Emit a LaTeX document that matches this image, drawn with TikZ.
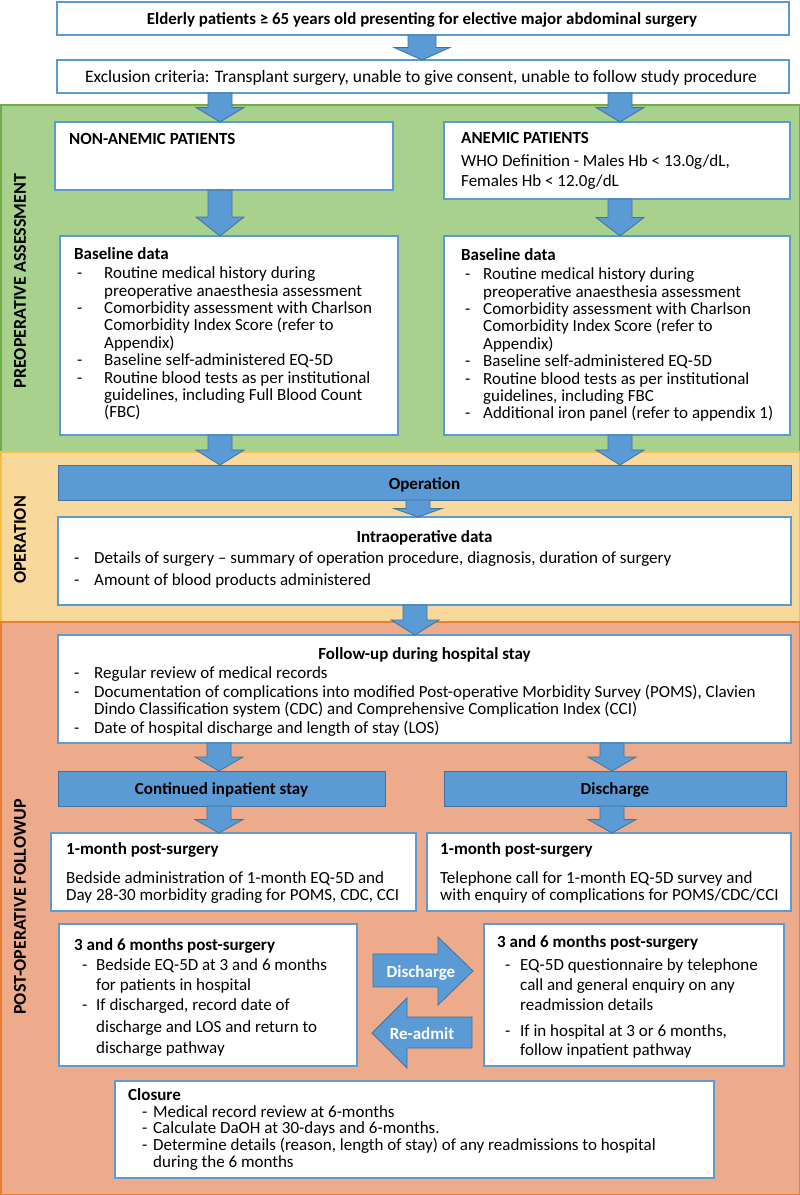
\documentclass[tikz,border=0pt]{standalone}
\usepackage{fontspec}
\setmainfont{Carlito}
\usetikzlibrary{calc}
\definecolor{bxb}{HTML}{5B9BD5}
\definecolor{arb}{HTML}{41719C}
\definecolor{grf}{HTML}{A9D18E}
\definecolor{grd}{HTML}{70AD47}
\definecolor{orf}{HTML}{F9D89C}
\definecolor{ord}{HTML}{F5C040}
\definecolor{saf}{HTML}{EEAB8C}
\definecolor{sad}{HTML}{ED7D31}
\newcommand\fs{\rule{0pt}{13.5pt}}
\newcommand\darr[4][12]{%
  \draw[arrst] let \p1=(#3.south), \p2=(#4.north), \n1={min(19,0.5*(\y1-\y2))} in
    (#2pt-#1pt,\y1) -- (#2pt+#1pt,\y1) -- (#2pt+#1pt,\y2+\n1) -- (#2pt+2*#1pt,\y2+\n1)
    -- (#2pt,\y2) -- (#2pt-2*#1pt,\y2+\n1) -- (#2pt-#1pt,\y2+\n1) -- cycle;}
\begin{document}
\begin{tikzpicture}[x=1pt,y=-1pt,
 box/.style={draw=bxb,line width=1.5pt,fill=white,anchor=north west,inner sep=0pt,outer sep=0pt},
 bar/.style={draw=arb,line width=1pt,fill=bxb,anchor=north west,inner sep=0pt,outer sep=0pt},
 txt/.style={inner sep=0pt,font=\fontsize{17}{17}\selectfont},
 txtb/.style={inner sep=0pt,font=\fontsize{17}{17}\selectfont\bfseries},
 ml/.style={txt,align=left,anchor=north west},
 bt/.style={ml,font=\fontsize{17}{17.4}\selectfont},
 side/.style={inner sep=0pt,rotate=90,font=\fontsize{18}{20}\selectfont\bfseries},
 arrst/.style={draw=arb,line width=0.8pt,fill=bxb,line join=miter},
 band/.style={line width=1.5pt}
]
\useasboundingbox (0,0) rectangle (800,1195);
\fill[white] (0,0) rectangle (800,1195);
% bands
\filldraw[band,fill=grf,draw=grd] (0.75,105) rectangle (799.25,452);
\filldraw[band,fill=orf,draw=ord] (0.75,452) rectangle (799.25,622);
\filldraw[band,fill=saf,draw=sad] (0.75,622) rectangle (799.25,1194.25);
% side labels
\node[side] (s1) at (20,281) {PREOPERATIVE ASSESSMENT};
\node[side] (s2) at (20,540) {OPERATION};
\node[side] (s3) at (20,907) {POST-OPERATIVE FOLLOWUP};
% top
\node[box,minimum width=732pt,minimum height=33pt] (top) at (57,2) {};
\node[txtb,font=\fontsize{16.9}{17}\selectfont\bfseries,anchor=base] (topt) at (422,24) {Elderly patients ≥ 65 years old presenting for elective major abdominal surgery};
\node[box,minimum width=732pt,minimum height=33pt] (excl) at (57,60) {};
\node[txt,font=\fontsize{17.5}{17}\selectfont,anchor=base] (exclt) at (421,82) {Exclusion criteria: Transplant surgery, unable to give consent, unable to follow study procedure};
% preoperative
\node[box,minimum width=338pt,minimum height=68pt] (nonan) at (55,122) {};
\node[txtb,anchor=base west] (nonant) at (69,144) {NON-ANEMIC PATIENTS};
\node[box,minimum width=346pt,minimum height=77pt] (anem) at (444,122) {};
\node[ml] (anemt) at (461,129.5) {\fs\textbf{ANEMIC PATIENTS}\\[6pt]WHO Definition - Males Hb < 13.0g/dL,\\[3pt]Females Hb < 12.0g/dL};
\node[box,minimum width=338pt,minimum height=199pt] (bl) at (60,236) {};
\node[bt] (blt) at (74,245.5) {\fs\textbf{Baseline data}\\[2pt]
\makebox[30pt][l]{\hspace{3pt}-}Routine medical history during\\
\makebox[30pt]{}preoperative anaesthesia assessment\\
\makebox[30pt][l]{\hspace{3pt}-}Comorbidity assessment with Charlson\\
\makebox[30pt]{}Comorbidity Index Score (refer to\\
\makebox[30pt]{}Appendix)\\
\makebox[30pt][l]{\hspace{3pt}-}Baseline self-administered EQ-5D\\
\makebox[30pt][l]{\hspace{3pt}-}Routine blood tests as per institutional\\
\makebox[30pt]{}guidelines, including Full Blood Count\\
\makebox[30pt]{}(FBC)};
\node[box,minimum width=346pt,minimum height=199pt] (br) at (444,236) {};
\node[bt] (brt) at (461,246.5) {\fs\textbf{Baseline data}\\[2pt]
\makebox[22pt][l]{\hspace{4pt}-}Routine medical history during\\
\makebox[22pt]{}preoperative anaesthesia assessment\\
\makebox[22pt][l]{\hspace{4pt}-}Comorbidity assessment with Charlson\\
\makebox[22pt]{}Comorbidity Index Score (refer to\\
\makebox[22pt]{}Appendix)\\
\makebox[22pt][l]{\hspace{4pt}-}Baseline self-administered EQ-5D\\
\makebox[22pt][l]{\hspace{4pt}-}Routine blood tests as per institutional\\
\makebox[22pt]{}guidelines, including FBC\\
\makebox[22pt][l]{\hspace{4pt}-}Additional iron panel (refer to appendix 1)};
% operation
\node[bar,minimum width=733pt,minimum height=35pt] (op) at (58,465) {};
\node[txtb,anchor=base] (opt) at (424.5,489) {Operation};
\node[box,minimum width=733pt,minimum height=88pt] (intra) at (58,517) {};
\node[txtb,anchor=base] (intrat) at (424.5,542) {Intraoperative data};
\node[ml] (intral) at (74,549.5) {\fs\makebox[20pt][l]{-}Details of surgery – summary of operation procedure, diagnosis, duration of surgery\\[5pt]
\makebox[20pt][l]{-}Amount of blood products administered};
% follow-up
\node[box,minimum width=733pt,minimum height=108pt] (fu) at (58,635) {};
\node[txtb,anchor=base] (fut) at (424.5,659) {Follow-up during hospital stay};
\node[ml] (ful) at (74,664.5) {\fs\makebox[20pt][l]{-}Regular review of medical records\\[2pt]
\makebox[20pt][l]{-}Documentation of complications into modified Post-operative Morbidity Survey (POMS), Clavien\\
\makebox[20pt]{}Dindo Classification system (CDC) and Comprehensive Complication Index (CCI)\\[2pt]
\makebox[20pt][l]{-}Date of hospital discharge and length of stay (LOS)};
\node[bar,minimum width=327pt,minimum height=35pt] (cont) at (58,771) {};
\node[txtb,anchor=base] (contt) at (221.5,794) {Continued inpatient stay};
\node[bar,minimum width=342pt,minimum height=35pt] (dis) at (444,771) {};
\node[txtb,anchor=base] (dist) at (615,794) {Discharge};
\node[box,minimum width=365pt,minimum height=78pt] (m1l) at (51,833) {};
\node[ml] (m1lt) at (66,840.5) {\fs\textbf{1-month post-surgery}\\[12pt]Bedside administration of 1-month EQ-5D and\\Day 28-30 morbidity grading for POMS, CDC, CCI};
\node[box,minimum width=364pt,minimum height=78pt] (m1r) at (427,833) {};
\node[ml] (m1rt) at (440,840.5) {\fs\textbf{1-month post-surgery}\\[12pt]Telephone call for 1-month EQ-5D survey and\\with enquiry of complications for POMS/CDC/CCI};
\node[box,minimum width=298pt,minimum height=142pt] (l36) at (59,924) {};
\node[ml] (l36t) at (74,936.5) {\fs\textbf{3 and 6 months post-surgery}\\[3pt]
\makebox[22pt][l]{\hspace{8pt}-}Bedside EQ-5D at 3 and 6 months\\[3pt]
\makebox[22pt]{}for patients in hospital\\[3pt]
\makebox[22pt][l]{\hspace{8pt}-}If discharged, record date of\\[5pt]
\makebox[22pt]{}discharge and LOS and return to\\[4pt]
\makebox[22pt]{}discharge pathway};
\node[box,minimum width=300pt,minimum height=142pt] (r36) at (484,924) {};
\node[ml] (r36t) at (497,933.5) {\fs\textbf{3 and 6 months post-surgery}\\[6pt]
\makebox[23pt][l]{\hspace{8pt}-}EQ-5D questionnaire by telephone\\[3pt]
\makebox[23pt]{}call and general enquiry on any\\[3pt]
\makebox[23pt]{}readmission details\\[9pt]
\makebox[23pt][l]{\hspace{8pt}-}If in hospital at 3 or 6 months,\\[2pt]
\makebox[23pt]{}follow inpatient pathway};
% horizontal arrows
\draw[arrst] (373,954) -- (438,954) -- (438,937) -- (473,971) -- (438,1005) -- (438,987) -- (373,987) -- cycle;
\node[txtb,text=white,anchor=base] (dlab) at (421,977) {Discharge};
\draw[arrst] (472,1017) -- (407,1017) -- (407,998) -- (372,1033) -- (407,1068) -- (407,1048) -- (472,1048) -- cycle;
\node[txtb,text=white,anchor=base] (rlab) at (422,1039) {Re-admit};
% closure
\node[box,minimum width=599pt,minimum height=97pt] (clo) at (115,1081) {};
\node[ml,font=\fontsize{17}{16.8}\selectfont] (clot) at (128,1086.5) {\fs\textbf{Closure}\\
\makebox[25pt][l]{\hspace{14pt}-}Medical record review at 6-months\\
\makebox[25pt][l]{\hspace{14pt}-}Calculate DaOH at 30-days and 6-months.\\
\makebox[25pt][l]{\hspace{14pt}-}Determine details (reason, length of stay) of any readmissions to hospital\\
\makebox[25pt]{}during the 6 months};
% down arrows
\darr[14]{422}{top}{excl}
\darr{220}{excl}{nonan}
\darr{620}{excl}{anem}
\darr{220}{nonan}{bl}
\darr{620}{anem}{br}
\darr{220}{bl}{op}
\darr{620}{br}{op}
\darr{418}{op}{intra}
\darr{415}{intra}{fu}
\darr{219}{fu}{cont}
\darr{612}{fu}{dis}
\darr{219}{cont}{m1l}
\darr{612}{dis}{m1r}
\end{tikzpicture}
\end{document}
